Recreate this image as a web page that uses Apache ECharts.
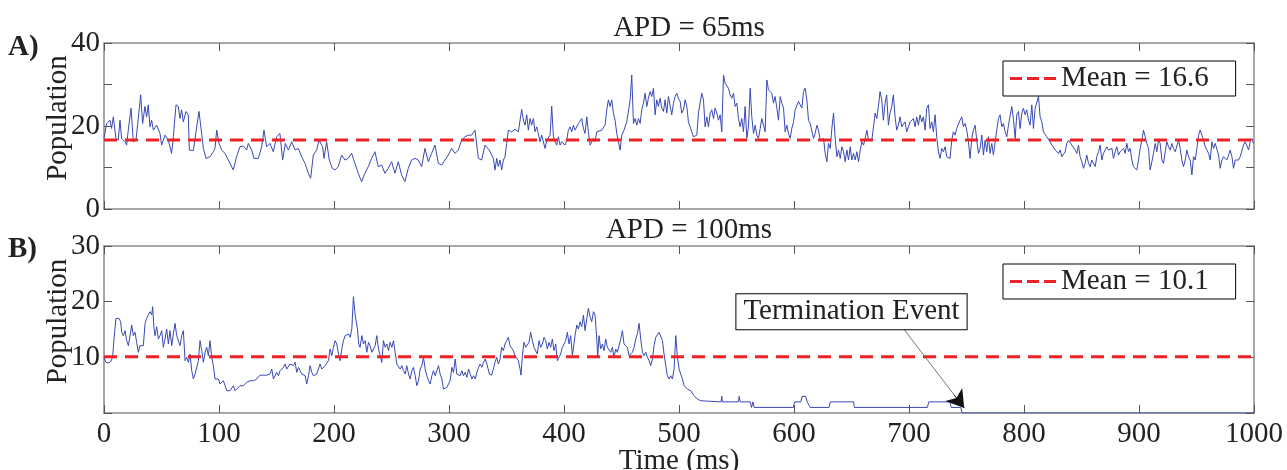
<!DOCTYPE html>
<html><head><meta charset="utf-8">
<script src="https://cdn.jsdelivr.net/npm/echarts@6/dist/echarts.min.js"></script>
<style>html,body{margin:0;padding:0;background:#fff}#c{width:1287px;height:470px}</style>
</head><body><div id="c"></div>
<script>
// Panel A (APD = 65ms): [time ms, population]
const apd65 = [
[0,17.0],[2.3,20.6],[5.2,21.4],[6.6,19.4],[8.1,22.2],[10.4,17.0],[12.4,16.6],[13.9,21.4],[15.3,17.0],[18.2,16.2],[19.7,15.4],[21.1,19.0],[23.5,24.3],[25.5,16.2],[27.8,16.6],[29.8,21.8],[31.9,27.5],[33.6,20.6],[35.6,24.7],[37.1,22.2],[38.5,25.1],[40,19.8],[41.4,21.4],[42.9,19.0],[45.8,20.2],[48.7,18.2],[50.1,15.4],[53,17.8],[55.9,16.6],[58.8,13.4],[60.3,17.4],[62.6,25.1],[64.6,24.7],[66.1,21.8],[67.5,23.9],[69,21.0],[71.3,23.5],[73.3,22.7],[74.2,14.2],[77.7,14.1],[80.6,19.8],[82.6,23.5],[84.9,18.2],[86.4,14.6],[88.7,12.2],[92.2,12.6],[95.1,13.8],[96.5,14.6],[98,19.0],[100,15.8],[102.3,14.2],[105.2,13.4],[108.1,11.8],[112.4,9.4],[115.3,12.6],[118.2,15.0],[121.1,15.2],[124,14.2],[125.5,15.8],[128.4,14.2],[130.4,12.2],[134.2,12.2],[137.1,15.0],[139.1,19.0],[141.4,15.0],[144.3,15.8],[147.2,13.8],[150.1,17.4],[153,18.2],[155.3,11.8],[157.7,15.8],[160.3,14.2],[163.2,16.2],[166.1,14.2],[169,14.6],[171.9,12.6],[174.8,11.0],[177.7,8.6],[179.7,7.4],[182,13.0],[184.9,14.2],[186.9,16.6],[190.1,15.0],[191.3,12.2],[193.6,16.2],[195.9,11.8],[198.5,9.8],[200.8,9.4],[203.7,10.2],[206.6,13.0],[209.5,11.8],[212.4,12.2],[215.3,13.4],[218.2,11.0],[221.1,8.6],[224,6.6],[226.9,8.6],[229.8,10.2],[232.7,12.2],[235.6,13.8],[238.5,10.2],[241.4,10.6],[244.3,8.6],[247.2,9.8],[250.1,11.4],[253,8.6],[255.9,11.4],[258.8,8.2],[261.7,6.6],[264.6,9.8],[267.5,11.8],[270.4,12.2],[273.3,11.8],[276.2,10.2],[279.1,14.6],[282,11.4],[284.9,13.4],[287.8,15.4],[290.7,11.0],[293.6,10.6],[296.5,11.8],[299.4,13.0],[302.3,14.6],[305.2,13.4],[308.1,14.2],[311,16.6],[313.9,17.4],[316.8,17.8],[319.7,17.8],[322.6,19.0],[325.5,12.2],[328.4,11.8],[331.3,15.4],[335,14.2],
[337.1,13.0],[338.6,12.2],[340,9.4],[341.5,12.2],[342.9,10.2],[344.4,11.8],[345.8,9.4],[347.3,11.8],[348.7,12.6],[350.2,15.8],[351.6,19.0],[354.5,18.6],[357.4,19.2],[360.3,18.6],[363.2,24.0],[364.7,21.4],[366.1,20.2],[367.6,22.7],[369,19.0],[370.5,21.8],[371.9,20.2],[373.4,21.8],[374.8,18.6],[376.3,19.8],[377.7,18.2],[379.2,16.2],[380.6,17.8],[382.1,17.4],[383.5,14.6],[385,16.6],[386.4,16.2],[387.9,17.8],[389.3,24.8],[390.8,17.4],[392.2,16.2],[393.7,15.4],[395.1,17.4],[396.6,15.4],[398,16.2],[400.9,15.4],[402.4,16.6],[403.8,19.0],[405.3,19.8],[406.7,18.6],[408.2,20.2],[409.6,19.0],[412.5,20.6],[415.4,21.8],[416.9,19.4],[418.3,18.2],[419.8,22.2],[421.2,18.6],[422.7,15.4],[424.1,15.4],[425.6,17.0],[427,16.2],[428.5,18.6],[429.9,19.0],[432.8,19.0],[435.7,20.2],[437.2,23.9],[438.6,26.3],[440.1,24.7],[441.5,26.3],[443,23.1],[444.4,21.4],[445.9,18.2],[447.3,16.2],[448.8,14.2],[450.2,17.8],[451.7,18.6],[453.1,19.8],[454.6,21.0],[456,21.4],[457.5,26.3],[458.9,32.3],[460.4,20.6],[461.8,21.8],[463.3,20.2],[464.7,21.8],[466.2,20.6],[467.6,23.9],[469.1,25.5],[470.5,27.9],[472,24.7],[473.4,26.7],[474.9,28.3],[476.3,27.1],[477.8,29.1],[479.2,22.7],[480.7,26.3],[482.1,24.7],[483.6,26.7],[485,24.3],[486.5,23.5],[487.9,26.3],[489.4,23.1],[490.8,27.1],[492.3,26.7],[493.7,22.7],[495.2,25.5],[496.6,27.1],[498.1,27.9],[499.5,26.7],[501,25.9],[502.4,23.1],[503.9,23.9],[505.3,26.3],[506.8,24.7],[508.2,21.0],[509.7,19.8],[511.1,18.6],[512.6,17.4],[514,17.0],[515.5,17.8],[516.9,23.1],[518.4,22.7],[519.8,27.9],[521.3,26.3],[522.7,19.8],[524.2,22.2],[525.6,19.8],[527.1,23.1],[528.5,23.9],[530,21.8],[531.4,24.3],[532.9,23.1],[534.3,21.4],[535.8,22.7],[537.2,18.6],[538.7,32.3],[540.1,30.3],[541.6,29.9],[543,29.1],[544.5,27.5],[545.9,26.7],[547.4,27.9],[548.8,24.7],[550.3,25.5],[551.7,21.8],[553.2,19.8],[554.6,21.8],[556.1,18.6],[557.5,24.7],[559,17.0],[560.4,19.8],[561.9,29.1],[563.3,22.2],[564.8,18.2],[566.2,20.2],[567.7,17.8],[569.1,17.0],[570.6,19.4],[572,21.8],[573.5,20.2],[574.9,18.6],[576.4,31.1],[577.8,28.7],[579.3,29.1],[580.7,27.9],[582.2,25.5],[583.6,27.1],[585.1,24.3],[586.5,21.4],[588,27.1],[589.4,25.5],[590.9,24.3],[592.3,18.6],[593.8,20.2],[595.2,18.2],[596.7,17.0],[598.1,19.4],[599.6,21.0],[601,23.9],[602.5,23.5],[603.9,25.9],[605.4,26.3],[606.8,24.3],[608.3,28.3],[609.7,29.1],[611.2,26.3],[612.6,21.4],[614.1,20.6],[615.5,21.0],[617,17.0],[618.4,18.2],[619.9,20.2],[621.3,19.0],[622.8,16.6],[624.2,16.2],[625.7,17.0],[627.1,13.4],[628.6,11.4],[630,15.8],[631.5,14.6],[632.9,19.4],[634.4,23.1],[635.8,17.0],[637.3,12.6],[638.7,14.2],[640.2,12.2],[641.6,15.0],[643.1,13.8],[644.5,11.4],[646,14.2],[647.4,11.8],[648.9,15.0],[650.3,11.8],[651.8,13.4],[653.2,11.8],[654.7,13.8],[656.1,11.4],[657.6,14.2],[659,16.2],[660.5,15.4],[661.9,17.0],[663.4,19.0],[664.8,16.6],[667.7,16.6],[670,21.8],
[670.5,23.1],[672,21.8],[673.4,24.7],[674.8,28.3],[676.3,26.3],[677.7,21.4],[679.2,25.5],[680.6,27.5],[682.1,20.2],[683.5,23.1],[685,24.7],[686.4,27.5],[687.9,22.2],[689.3,19.0],[690.8,20.2],[692.2,22.2],[693.7,19.8],[695.1,19.4],[696.6,21.0],[698,18.6],[699.5,19.8],[700.9,21.0],[702.4,20.6],[703.8,21.8],[705.3,19.8],[706.7,22.2],[708.2,20.2],[709.6,22.7],[711.1,21.0],[712.5,22.2],[714,19.0],[715.4,24.3],[716.9,25.1],[718.3,19.4],[719.8,21.0],[721.2,18.6],[722.7,22.7],[724.1,17.4],[725.6,13.8],[727,12.2],[728.5,14.6],[729.9,13.8],[731.4,15.0],[732.8,12.6],[734.3,13.0],[735.7,12.2],[737.2,16.6],[738.6,18.6],[740.1,17.8],[741.5,19.4],[743,19.8],[744.4,21.4],[745.9,22.2],[747.3,19.8],[748.8,20.6],[750.2,19.0],[751.7,16.2],[753.1,12.2],[754.6,17.0],[756,19.0],[757.5,20.2],[758.9,16.6],[760.4,13.4],[761.8,14.6],[763.3,17.8],[764.7,13.0],[766.2,16.6],[767.6,13.8],[769.1,17.4],[770.5,13.4],[772,15.8],[773.4,13.0],[774.9,13.4],[776.3,19.0],[777.8,21.8],[779.2,22.7],[780.7,19.8],[782.1,20.6],[783.6,18.6],[785,17.4],[786.5,20.2],[787.9,19.8],[789.4,24.7],[790.8,21.8],[792.3,17.0],[793.7,22.7],[795.2,23.5],[796.6,19.4],[798.1,23.1],[799.5,24.3],[801,22.7],[802.4,23.9],[803.9,21.4],[805.3,20.2],[806.8,25.1],[808.2,19.4],[809.7,24.3],[811.1,24.7],[812.6,27.1],[814,22.2],[815.5,21.0],[816.9,18.6],[818.4,19.0],[819.8,17.4],[821.3,17.0],[822.7,16.2],[824.2,15.4],[825.6,15.8],[827.1,14.2],[828.5,14.6],[830,13.4],[831.4,14.2],[832.9,12.6],[834.3,13.0],[835.8,13.8],[837.2,15.8],[838.7,16.6],[840.1,17.0],[841.6,15.4],[843,15.0],[844.5,14.2],[845.9,13.4],[847.4,15.4],[848.8,12.6],[850.3,11.4],[851.7,9.8],[853.2,11.0],[854.6,13.0],[856.1,11.0],[857.5,10.2],[859,11.8],[860.4,11.4],[861.9,10.2],[863.3,12.6],[864.8,13.8],[866.2,15.4],[867.7,11.8],[869.1,13.4],[870.6,13.0],[872,15.0],[873.5,14.2],[874.9,13.8],[876.4,14.6],[877.8,12.2],[879.3,13.8],[880.7,15.0],[882.2,13.0],[883.6,13.8],[885.1,14.2],[886.5,14.6],[888,13.4],[889.4,15.8],[890.9,13.8],[892.3,14.6],[893.8,11.8],[895.2,10.2],[896.7,9.8],[898.1,9.4],[899.6,11.8],[901,14.6],[902.5,16.6],[903.9,19.0],[905.4,17.4],[906.8,15.8],[908.3,14.6],[909.7,9.4],[911.2,11.4],[912.6,13.4],[914.1,15.8],[915.5,13.8],[917,16.6],[918.4,15.8],[919.9,11.8],[921.3,11.0],[922.8,13.8],[924.2,16.2],[925.7,15.0],[927.1,14.2],[928.6,15.8],[930,14.6],[931.5,13.8],[932.9,14.2],[934.4,16.6],[935.8,14.6],[937.3,11.8],[938.7,10.2],[940.2,11.8],[941.6,14.2],[943.1,12.6],[944.5,11.8],[946,8.2],[947.4,12.6],[948.9,11.8],[950.3,14.6],[951.8,17.8],[953.2,19.0],[954.7,18.6],[956.1,16.6],[957.6,15.0],[959,15.4],[960.5,13.4],[961.9,11.8],[963.4,16.2],[964.8,14.6],[966.3,15.8],[967.7,15.8],[969.2,13.0],[970.6,9.8],[972.1,11.8],[973.5,12.6],[975,13.0],[976.4,11.8],[977.9,13.0],[979.3,14.2],[980.8,12.6],[982.2,9.8],[983.7,11.8],[985.1,11.4],[986.6,11.8],[988,12.6],[989.5,12.2],[990.9,15.4],[992.4,16.2],[993.8,15.8],[995.3,14.2],[996.7,16.2],[998.2,17.0],[999.6,15.8]
];
// Panel B (APD = 100ms): [time ms, population]
const apd100 = [
[0,10.0],[1.7,9.1],[3.8,9.0],[5.8,9.2],[7.5,10.0],[8.7,13.3],[10.4,17.0],[11.6,16.7],[13,17.0],[14.5,16.4],[15.4,14.5],[16.8,13.9],[18.3,14.8],[19.7,13.0],[21.2,12.1],[22.6,12.1],[24.1,15.8],[25.5,13.9],[27,14.5],[28.4,12.7],[29.9,10.9],[31.3,12.1],[32.8,11.8],[34.2,12.1],[35.7,16.1],[37.1,17.0],[38.6,17.3],[40,18.2],[41.5,17.6],[42.3,19.1],[43.5,15.1],[44.4,13.9],[45.8,15.5],[47.3,13.3],[48.7,13.9],[50.2,14.8],[51.6,11.8],[53.1,13.3],[54.5,15.1],[56,12.4],[57.4,14.8],[58.9,12.1],[60.3,14.2],[61.8,16.1],[63.2,13.9],[64.7,13.9],[66.1,12.1],[67.6,13.9],[69,14.8],[70.5,9.4],[71.9,10.0],[73.4,9.1],[74.8,10.6],[76.3,7.6],[77.7,6.1],[79.2,7.0],[80.6,6.7],[82.1,9.4],[83.5,13.0],[85,11.2],[86.4,9.1],[87.9,10.9],[89.3,11.8],[90.8,10.3],[92.2,13.0],[93.7,10.0],[95.1,8.5],[96.6,6.1],[98,5.8],[99.5,6.1],[100.9,5.2],[102.4,5.5],[103.8,5.8],[105.3,4.9],[106.7,4.0],[109.6,4.0],[111.1,4.3],[112.5,4.9],[114,4.0],[115.4,4.0],[118.3,4.9],[121.2,4.9],[124.1,5.5],[127,5.8],[129.9,5.8],[132.8,6.1],[135.7,6.8],[138.6,6.8],[141.5,6.8],[144.4,7.0],[145.9,7.9],[147.3,6.1],[148.8,6.4],[150.2,7.3],[151.7,6.7],[153.1,7.6],[154.6,7.3],[156,8.2],[157.5,8.8],[158.9,7.9],[160.4,8.2],[161.8,8.8],[163.3,8.8],[164.7,8.5],[166.2,9.1],[167.6,7.3],[169.1,8.2],[170.5,7.6],[172,7.0],[173.4,7.0],[174.9,6.7],[176.3,5.2],[177.8,6.7],[179.2,8.5],[180.7,7.3],[182.1,6.7],[183.6,6.4],[185,7.0],[186.5,7.3],[187.9,8.8],[189.4,7.9],[190.8,8.2],[192.3,8.5],[193.7,8.2],[195.2,9.4],[196.6,11.5],[198.1,10.3],[199.5,11.8],[201,13.0],[202.4,12.4],[203.9,10.6],[205.3,9.4],[206.8,11.5],[208.2,13.0],[209.7,13.9],[211.1,13.6],[212.6,14.2],[214,13.6],[215.5,15.1],[216.9,20.9],[218.4,17.6],[219.2,17.9],[220.4,15.1],[221.5,12.4],[222.7,11.8],[224.2,13.9],[225.6,12.4],[227.1,13.0],[228.5,10.9],[230,12.7],[231.4,12.1],[232.9,10.9],[234.3,10.9],[235.8,12.1],[237.2,13.9],[238.7,11.5],[240.1,11.2],[241.6,9.1],[243,13.0],[244.5,11.8],[245.9,12.4],[247.4,11.2],[248.8,12.7],[250.3,11.8],[251.7,13.0],[253.2,10.9],[254.6,8.8],[256.1,9.1],[257.5,7.9],[259,8.5],[260.4,7.6],[261.9,7.0],[263.3,8.5],[264.8,7.0],[266.2,6.1],[267.7,7.6],[269.1,8.2],[270.6,6.7],[272,4.9],[273.5,5.8],[274.9,7.9],[276.4,8.5],[277.8,10.0],[279.3,7.9],[280.7,6.7],[282.2,5.8],[283.6,5.2],[285.1,6.7],[286.5,7.6],[288,6.7],[289.4,7.6],[290.9,8.5],[292.3,7.0],[293.8,6.1],[295.2,4.3],[296.7,4.0],[298.1,4.6],[299.6,4.9],[301,5.8],[302.5,8.2],[303.9,7.3],[305.4,9.7],[306.8,7.0],[308.3,7.0],[309.7,6.7],[311.2,7.6],[312.6,6.7],[314.1,7.3],[315.5,6.4],[317,7.9],[318.4,7.0],[319.9,6.1],[321.3,6.7],[322.8,6.1],[324.2,7.3],[325.7,8.2],[327.1,8.8],[328.6,8.2],[330,9.1],[331.5,9.7],[332.9,8.8],[335.2,7.0],
[337.1,6.8],[338.6,7.9],[340,9.1],[341.5,10.0],[342.9,8.8],[344.4,9.7],[345.8,11.8],[347.3,11.2],[348.7,12.4],[350.2,13.0],[351.6,13.6],[353.1,12.1],[354.5,12.4],[356,11.2],[357.4,10.3],[358.9,10.0],[360.3,9.4],[361.8,7.9],[362.6,6.8],[363.8,10.3],[365.2,12.7],[366.7,11.8],[368.1,12.1],[369.6,12.7],[371,14.5],[372.5,13.0],[373.9,11.8],[375.4,11.5],[376.8,10.6],[378.3,13.0],[379.7,11.8],[381.2,12.4],[382.6,13.6],[384.1,13.0],[385.5,11.5],[387,12.7],[388.4,11.8],[389.9,13.3],[391.3,11.2],[392.8,12.4],[394.2,9.4],[395.7,9.1],[397.1,10.6],[398.6,11.8],[400,11.8],[401.5,13.0],[402.9,14.5],[404.4,12.4],[405.8,13.9],[407.3,10.3],[408.2,10.0],[409.6,13.9],[411.1,15.8],[412.5,15.1],[414,16.4],[415.4,15.5],[416.9,17.6],[418.3,14.8],[419.8,17.0],[421.2,18.8],[422.7,17.3],[424.1,16.4],[425.6,18.2],[427,17.6],[428.5,13.3],[429.3,10.0],[430.5,13.9],[431.9,11.5],[433.4,12.4],[434.8,11.2],[436.3,13.3],[437.7,11.8],[439.2,12.1],[440.6,10.9],[442.1,11.8],[443.5,10.0],[445,11.5],[446.4,10.9],[447.9,10.6],[449.3,13.3],[450.8,14.8],[452.2,12.4],[453.7,12.4],[455.1,11.8],[456.6,10.3],[458,10.0],[459.5,10.9],[460.9,11.8],[462.4,13.3],[463.8,14.2],[465.3,16.1],[466.7,13.3],[468.2,10.9],[469.6,10.3],[471.1,10.9],[472.5,10.0],[474,9.4],[475.4,8.5],[476.9,9.7],[478.3,12.1],[479.8,13.6],[481.2,13.9],[482.7,14.5],[484.1,14.8],[485.6,13.0],[487,10.6],[488.5,8.5],[489.9,6.7],[491.4,6.1],[492.8,6.7],[494.3,6.1],[495.7,7.9],[497.2,13.9],[498.6,10.0],[500.1,7.9],[501.5,7.0],[503,6.1],[504.4,4.9],[505.9,5.2],[507.3,4.3],[508.8,4.6],[510.2,4.0],[511.7,3.7],[513.1,3.1],[514.6,3.4],[516,2.5],[517.5,2.8],[518.9,2.2],
[520.4,2],[536.6,2],[537.2,3],[537.8,2],[551.7,2],[552.3,3],[553.2,2],[562,2],[563,1],[564.3,2],[565.3,1],[599.5,1],[600.5,2],[606,2],[607,3],[610,3],[611.5,2],[613,2],[614,1],[630.5,1],[631.5,2],[651.8,2],[652.6,1],[716,1],[717.2,2],[735.5,2],[736.7,1],[745,1],[746.2,0],[1000,0]
];
const meanA = 16.6;
const meanB = 10.1;
const panelTitles = ['APD = 65ms', 'APD = 100ms'];
const panelLetters = ['A)', 'B)'];
const legendNames = ['Mean = 16.6', 'Mean = 10.1'];
const annotationText = 'Termination Event';
const annotationAt = [650, 18.2];       // label position (time, population)
const arrowFrom = [695, 15.2];
const arrowHeadFrom = [739, 3.3];
const arrowTo = [748, 0.9];
const xRange = [0, 1000];

const FONT = 'Liberation Serif';
const FS = 29;
const TXT = '#222';
const AX = '#8a8a8a';
const BLUE = '#3849b5';
const RED = '#ec2227';
const DASH_ICON = 'path://M0,0h12v3h-12z M17,0h12v3h-12z M34,0h12v3h-12z';

const chart = echarts.init(document.getElementById('c'), null, {renderer: 'canvas'});

function xAxis(gi, pos, labels, name) {
  return {
    type: 'value', gridIndex: gi, position: pos, min: xRange[0], max: xRange[1], interval: 100,
    axisLine: {show: true, onZero: false, lineStyle: {color: AX, width: 1.5}},
    axisTick: {show: true, inside: true, length: 8, lineStyle: {color: '#555', width: 1}},
    axisLabel: {show: labels, fontFamily: FONT, fontSize: FS, color: TXT, margin: 7, formatter: v => String(v)},
    splitLine: {show: false},
    name: name || '', nameLocation: 'middle', nameGap: 34, nameMoveOverlap: false,
    nameTextStyle: {fontFamily: FONT, fontSize: FS, color: TXT}
  };
}
function yAxis(gi, pos, max, labels, fmt, name) {
  return {
    type: 'value', gridIndex: gi, position: pos, min: 0, max: max, interval: 10,
    axisLine: {show: true, onZero: false, lineStyle: {color: AX, width: 1.5}},
    axisTick: {show: true, inside: true, length: 8, lineStyle: {color: '#555', width: 1}},
    axisLabel: {show: labels, fontFamily: FONT, fontSize: FS, color: TXT, margin: 4, formatter: fmt},
    splitLine: {show: false},
    name: name || '', nameLocation: 'middle', nameGap: 31, nameMoveOverlap: false,
    nameTextStyle: {fontFamily: FONT, fontSize: FS, color: TXT, padding: [0, 0, 0, 16]}
  };
}

const legendBase = {
  orient: 'horizontal', itemWidth: 46, itemHeight: 3, itemGap: 0, symbolKeepAspect: true,
  padding: [3, 27, 3, 7], borderColor: '#000', borderWidth: 1, backgroundColor: '#fff',
  selectedMode: false, textStyle: {fontFamily: FONT, fontSize: FS, color: TXT}
};

const option = {
  animation: false,
  backgroundColor: '#fff',
  title: [
    {text: panelTitles[0], left: 684, top: 9, textAlign: 'center', textStyle: {fontFamily: FONT, fontSize: FS, fontWeight: 'normal', color: TXT}},
    {text: panelTitles[1], left: 684, top: 211, textAlign: 'center', textStyle: {fontFamily: FONT, fontSize: FS, fontWeight: 'normal', color: TXT}},
    {text: panelLetters[0], left: 3, top: 28, textStyle: {fontFamily: FONT, fontSize: FS, fontWeight: 'bold', color: TXT}},
    {text: panelLetters[1], left: 3, top: 230, textStyle: {fontFamily: FONT, fontSize: FS, fontWeight: 'bold', color: TXT}}
  ],
  legend: [
    Object.assign({}, legendBase, {data: [{name: legendNames[0], icon: DASH_ICON}], left: 1003, top: 61}),
    Object.assign({}, legendBase, {data: [{name: legendNames[1], icon: DASH_ICON}], left: 1003, top: 264})
  ],
  grid: [
    {left: 104, right: 33, top: 43, height: 166, outerBoundsMode: 'none', containLabel: false},
    {left: 104, right: 33, top: 246, height: 167, outerBoundsMode: 'none', containLabel: false}
  ],
  xAxis: [
    xAxis(0, 'bottom', false),
    xAxis(0, 'top', false),
    xAxis(1, 'bottom', true, 'Time (ms)'),
    xAxis(1, 'top', false)
  ],
  yAxis: [
    yAxis(0, 'left', 40, true, v => (v % 20 === 0 ? String(v) : ''), 'Population'),
    yAxis(0, 'right', 40, false),
    yAxis(1, 'left', 30, true, v => (v === 0 ? '' : String(v)), 'Population'),
    yAxis(1, 'right', 30, false)
  ],
  series: [
    {type: 'line', name: 'APD65', xAxisIndex: 0, yAxisIndex: 0, data: apd65, showSymbol: false, symbol: 'none',
     lineStyle: {color: BLUE, width: 1}, silent: true, z: 2},
    {type: 'line', name: legendNames[0], xAxisIndex: 0, yAxisIndex: 0,
     data: [[xRange[0], meanA], [xRange[1], meanA]], symbol: 'none', showSymbol: false, silent: true, z: 3,
     itemStyle: {color: RED}, lineStyle: {color: RED, width: 3, type: [13, 8]}},
    {type: 'line', name: 'APD100', xAxisIndex: 2, yAxisIndex: 2, data: apd100, showSymbol: false, symbol: 'none',
     lineStyle: {color: BLUE, width: 1}, silent: true, z: 2,
     markLine: {silent: true, symbol: ['none', 'none'], label: {show: false},
       lineStyle: {color: '#555', width: 0.8, type: 'solid'},
       data: [[{coord: arrowFrom}, {coord: arrowTo}]]},
     markPoint: {silent: true, symbol: 'rect', symbolSize: 1, itemStyle: {color: 'rgba(0,0,0,0)'},
       label: {show: true, position: 'inside', formatter: annotationText, fontFamily: FONT, fontSize: FS, color: TXT,
         backgroundColor: '#fff', borderColor: '#000', borderWidth: 1, padding: [3, 7, 3, 7]},
       data: [{coord: annotationAt}]}
    },
    {type: 'line', name: legendNames[1], xAxisIndex: 2, yAxisIndex: 2,
     data: [[xRange[0], meanB], [xRange[1], meanB]], symbol: 'none', showSymbol: false, silent: true, z: 3,
     itemStyle: {color: RED}, lineStyle: {color: RED, width: 3, type: [13, 8]},
     markLine: {silent: true, symbol: ['none', 'arrow'], symbolSize: [16, 17], label: {show: false},
       lineStyle: {color: '#111', width: 0.8, type: 'solid'},
       data: [[{coord: arrowHeadFrom}, {coord: arrowTo}]]}
    }
  ]
};
chart.setOption(option);
</script>
</body></html>
